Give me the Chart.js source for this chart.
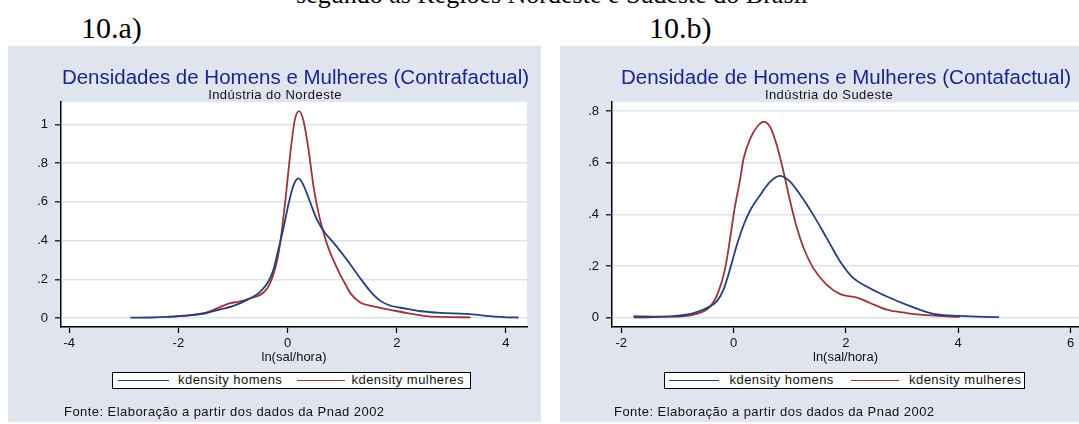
<!DOCTYPE html>
<html>
<head>
<meta charset="utf-8">
<script src="https://cdn.jsdelivr.net/npm/chart.js@4.4.1/dist/chart.umd.min.js"></script>
<style>
  body { margin: 0; width: 1079px; height: 424px; position: relative; overflow: hidden; background: #fff;
         font-family: "Liberation Sans", Arial, sans-serif; }
  .panel { position: absolute; top: 46px; height: 376px; background: #dfe4ee; }
  .panel canvas { position: absolute; left: 0; top: 0; }
  .txt { position: absolute; white-space: nowrap; line-height: 1; }
  .serif { font-family: "Liberation Serif", "Times New Roman", serif; color: #000; }
  .center { transform: translateX(-50%); }
  .title { font-size: 20.5px; color: #1c2490; }
  .small { font-size: 13px; letter-spacing: 0.45px; color: #111; }
  .legend { position: absolute; top: 372px; height: 17px; box-sizing: border-box; border: 1.5px solid #000; background: #fff; }
  .legend .ln { position: absolute; top: 6.5px; height: 1.6px; }
  .legend .lt { position: absolute; top: 0; line-height: 14px; font-size: 13px; letter-spacing: 0.45px; color: #111; white-space: nowrap; }
</style>
</head>
<body>

<div class="txt serif center" style="left:552px; top:-18px; font-size:26px;">segundo as Regiões Nordeste e Sudeste do Brasil</div>
<div class="txt serif" style="left:81px; top:13px; font-size:30px;">10.a)</div>
<div class="txt serif" style="left:649px; top:13px; font-size:30px;">10.b)</div>

<div class="panel" style="left:8px; width:533px;">
  <canvas id="chartNE" width="533" height="376"></canvas>
</div>
<div class="panel" style="left:560px; width:519px;">
  <canvas id="chartSE" width="519" height="376"></canvas>
</div>

<div class="txt title center" style="left:295.5px; top:67px;">Densidades de Homens e Mulheres (Contrafactual)</div>
<div class="txt small center" style="left:275px; top:87.5px;">Indústria do Nordeste</div>
<div class="txt title center" style="left:846px; top:67px;">Densidade de Homens e Mulheres (Contafactual)</div>
<div class="txt small center" style="left:829px; top:87.5px;">Indústria do Sudeste</div>

<div class="legend" style="left:112px; width:359px;">
  <div class="ln" style="left:4.5px; width:51px; background:#233f7e;"></div>
  <div class="lt" style="left:65px;">kdensity homens</div>
  <div class="ln" style="left:183.5px; width:48px; background:#9b3539;"></div>
  <div class="lt" style="left:238.5px;">kdensity mulheres</div>
</div>
<div class="legend" style="left:664px; width:361px;">
  <div class="ln" style="left:3.5px; width:50px; background:#233f7e;"></div>
  <div class="lt" style="left:64.5px;">kdensity homens</div>
  <div class="ln" style="left:185.5px; width:48px; background:#9b3539;"></div>
  <div class="lt" style="left:244px;">kdensity mulheres</div>
</div>

<div class="txt small" style="left:64px; top:405px;">Fonte: Elaboração a partir dos dados da Pnad 2002</div>
<div class="txt small" style="left:614px; top:405px;">Fonte: Elaboração a partir dos dados da Pnad 2002</div>

<script>
// Nordeste (10.a)
const nordesteHomensX = [-2.88, -2.5, -2.2, -1.8, -1.5, -1.23, -0.99, -0.74, -0.5, -0.35, -0.26, -0.17, -0.07, 0.02, 0.11, 0.20,
  0.29, 0.42, 0.54, 0.69, 0.84, 1.09, 1.33, 1.52, 1.70, 1.88, 2.19, 2.49, 2.80, 3.29, 3.71, 4.02, 4.23];
const nordesteHomensY = [0.002, 0.003, 0.006, 0.014, 0.025, 0.045, 0.063, 0.094, 0.137, 0.189, 0.249, 0.352, 0.472, 0.593, 0.687, 0.722,
  0.687, 0.593, 0.507, 0.438, 0.39, 0.30, 0.206, 0.137, 0.089, 0.065, 0.048, 0.034, 0.027, 0.022, 0.010, 0.004, 0.003];
const nordesteMulheresX = [-2.19, -1.78, -1.48, -1.23, -1.05, -0.87, -0.68, -0.44, -0.32, -0.19, -0.13, -0.04, 0.05, 0.13, 0.21, 0.29,
  0.385, 0.476, 0.568, 0.66, 0.75, 0.87, 0.965, 1.05, 1.15, 1.33, 1.575, 1.88, 2.19, 2.49, 2.8, 3.35];
const nordesteMulheresY = [0.007, 0.015, 0.029, 0.058, 0.077, 0.086, 0.103, 0.132, 0.18, 0.30, 0.40, 0.61, 0.85, 1.02, 1.069, 1.02,
  0.868, 0.678, 0.541, 0.44, 0.36, 0.28, 0.223, 0.18, 0.129, 0.080, 0.060, 0.043, 0.026, 0.012, 0.006, 0.004];

// Sudeste (10.b)
const sudesteHomensX = [-1.78, -1.13, -0.71, -0.415, -0.30, -0.18, -0.06, 0.06, 0.18, 0.30, 0.475, 0.65, 0.83, 1.01, 1.19, 1.42,
  1.66, 1.90, 2.135, 2.37, 2.73, 3.085, 3.56, 4.03, 4.73];
const sudesteHomensY = [0.001, 0.005, 0.018, 0.044, 0.063, 0.108, 0.19, 0.282, 0.359, 0.417, 0.475, 0.526, 0.549, 0.526, 0.475, 0.398,
  0.308, 0.217, 0.153, 0.121, 0.082, 0.05, 0.015, 0.007, 0.002];
const sudesteMulheresX = [-1.78, -1.13, -0.71, -0.415, -0.27, -0.15, -0.06, 0.02, 0.11, 0.18, 0.30, 0.42, 0.53, 0.65, 0.77, 0.89,
  1.01, 1.13, 1.25, 1.42, 1.66, 1.90, 2.20, 2.43, 2.73, 3.085, 3.32, 4.03];
const sudesteMulheresY = [0.006, 0.004, 0.012, 0.044, 0.10, 0.19, 0.308, 0.424, 0.526, 0.617, 0.694, 0.739, 0.758, 0.739, 0.668, 0.565,
  0.449, 0.346, 0.269, 0.192, 0.127, 0.091, 0.078, 0.057, 0.031, 0.018, 0.012, 0.003];

// tick values and labels
const nordesteXTicks = [-4, -2, 0, 2, 4];
const nordesteYTicks = [0, 0.2, 0.4, 0.6, 0.8, 1];
const nordesteYLabels = ['0', '.2', '.4', '.6', '.8', '1'];
const sudesteXTicks = [-2, 0, 2, 4, 6];
const sudesteYTicks = [0, 0.2, 0.4, 0.6, 0.8];
const sudesteYLabels = ['0', '.2', '.4', '.6', '.8'];

const colorHomens = '#233f7e';
const colorMulheres = '#9b3539';
const colorGrid = '#dce3ee';
const tickFont = { family: 'Liberation Sans', size: 13 };

function toPoints(xs, ys) {
  return xs.map((x, i) => ({ x, y: ys[i] }));
}

// white plot region like Stata's plotregion
const plotBg = {
  id: 'plotBg',
  beforeDraw(chart) {
    const { ctx, chartArea: a } = chart;
    ctx.save();
    ctx.fillStyle = '#fff';
    ctx.fillRect(a.left, a.top, a.right - a.left, a.bottom - a.top);
    ctx.restore();
  }
};

function createDensityChart(id, homens, mulheres, cfg) {
  return new Chart(document.getElementById(id), {
    type: 'line',
    data: {
      datasets: [
        { label: 'kdensity homens', data: homens, borderColor: colorHomens, borderWidth: 1.8,
          pointRadius: 0, cubicInterpolationMode: 'monotone', fill: false },
        { label: 'kdensity mulheres', data: mulheres, borderColor: colorMulheres, borderWidth: 1.8,
          pointRadius: 0, cubicInterpolationMode: 'monotone', fill: false }
      ]
    },
    options: {
      responsive: false,
      animation: false,
      layout: { padding: { top: 56, right: cfg.padRight, left: 0, bottom: 0 } },
      plugins: { legend: { display: false }, tooltip: { enabled: false } },
      scales: {
        x: {
          type: 'linear',
          min: cfg.xMin,
          max: cfg.xMax,
          afterBuildTicks: s => { s.ticks = cfg.xTicks.map(v => ({ value: v })); },
          afterFit: s => { s.height = 95; },
          ticks: { color: '#111', font: tickFont, padding: 3, maxRotation: 0, callback: v => String(v) },
          grid: { drawOnChartArea: false, tickLength: 6, tickColor: '#000', tickWidth: 1.2 },
          border: { display: true, color: '#000', width: 1.5 },
          title: { display: true, text: 'ln(sal/hora)', color: '#111', font: tickFont, padding: { top: 0, bottom: 57 } }
        },
        y: {
          min: cfg.yMin,
          max: cfg.yMax,
          afterBuildTicks: s => { s.ticks = cfg.yTicks.map(v => ({ value: v })); },
          afterFit: s => { s.width = cfg.yAxisWidth; },
          ticks: {
            color: '#111', font: tickFont, padding: 7,
            callback: v => cfg.yLabels[cfg.yTicks.findIndex(t => Math.abs(t - v) < 1e-9)]
          },
          grid: { color: colorGrid, lineWidth: 1.6, tickLength: 6, tickColor: '#000', tickWidth: 1.2 },
          border: { display: true, color: '#000', width: 1.5 }
        }
      }
    },
    plugins: [plotBg]
  });
}

createDensityChart('chartNE',
  toPoints(nordesteHomensX, nordesteHomensY),
  toPoints(nordesteMulheresX, nordesteMulheresY),
  { xMin: -4.15, xMax: 4.385, yMin: -0.046, yMax: 1.116, xTicks: nordesteXTicks, yTicks: nordesteYTicks,
    yLabels: nordesteYLabels, yAxisWidth: 53, padRight: 14 });

createDensityChart('chartSE',
  toPoints(sudesteHomensX, sudesteHomensY),
  toPoints(sudesteMulheresX, sudesteMulheresY),
  { xMin: -2.164, xMax: 6.151, yMin: -0.036, yMax: 0.835, xTicks: sudesteXTicks, yTicks: sudesteYTicks,
    yLabels: sudesteYLabels, yAxisWidth: 52, padRight: 0 });
</script>
</body>
</html>
